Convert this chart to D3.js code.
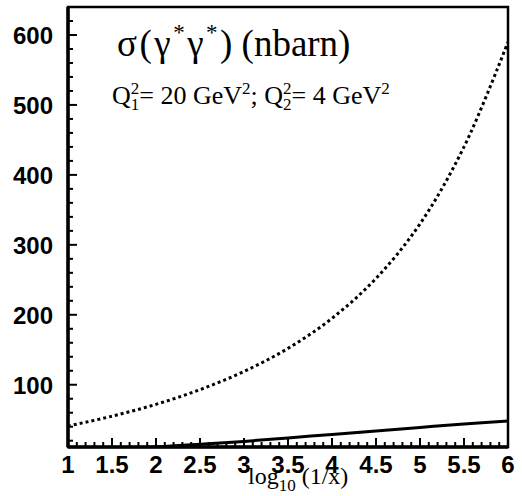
<!DOCTYPE html>
<html>
<head>
<meta charset="utf-8">
<script src="https://cdn.jsdelivr.net/npm/d3@7"></script>
<style>
  body { margin: 0; background: #fff; }
  svg { display: block; }
</style>
</head>
<body>
<svg id="chart"></svg>
<script>
// values
const logX = [1, 1.5, 2, 2.5, 3, 3.5, 4, 4.5, 5, 5.5, 6]
const sigmaDotted = [41, 55, 72, 93, 119, 152, 195, 252, 330, 440, 590]
const sigmaSolid = [5, 8, 11, 15, 19, 24, 29, 34, 39, 44, 48]
const xTickLabels = ['1', '1.5', '2', '2.5', '3', '3.5', '4', '4.5', '5', '5.5', '6']
const yTickLabels = ['100', '200', '300', '400', '500', '600']

const width = 522, height = 496
const margin = { top: 7, right: 14, bottom: 49, left: 68 }

const svg = d3.select('#chart')
  .attr('width', width)
  .attr('height', height)

const x = d3.scaleLinear().domain([1, 6]).range([margin.left, width - margin.right])
const y = d3.scaleLinear().domain([11, 640]).range([height - margin.bottom, margin.top])

svg.append('clipPath').attr('id', 'plot')
  .append('rect')
  .attr('x', margin.left).attr('y', margin.top)
  .attr('width', x(6) - x(1)).attr('height', y(11) - y(640))

const line = d3.line()
  .x(d => x(d[0]))
  .y(d => y(d[1]))
  .curve(d3.curveCatmullRom)

const curves = svg.append('g').attr('clip-path', 'url(#plot)')

curves.append('path')
  .datum(logX.map((v, i) => [v, sigmaDotted[i]]))
  .attr('d', line)
  .attr('fill', 'none')
  .attr('stroke', '#000')
  .attr('stroke-width', 3)
  .attr('stroke-dasharray', '3,3')

curves.append('path')
  .datum(logX.map((v, i) => [v, sigmaSolid[i]]))
  .attr('d', line)
  .attr('fill', 'none')
  .attr('stroke', '#000')
  .attr('stroke-width', 3)

// ticks (inside the frame)
const yMinor = d3.range(20, 641, 20)
svg.append('g').selectAll('line')
  .data(yMinor)
  .enter().append('line')
  .attr('x1', x(1))
  .attr('x2', d => x(1) + (d % 100 === 0 ? 9 : 5))
  .attr('y1', d => y(d)).attr('y2', d => y(d))
  .attr('stroke', '#000').attr('stroke-width', 2)

const xMinor = d3.range(10, 60).map(d => d / 10)
svg.append('g').selectAll('line')
  .data(xMinor)
  .enter().append('line')
  .attr('x1', d => x(d)).attr('x2', d => x(d))
  .attr('y1', y(11))
  .attr('y2', d => y(11) - (Math.round(d * 10) % 5 === 0 ? 9 : 5))
  .attr('stroke', '#000').attr('stroke-width', 2)

// frame
svg.append('rect')
  .attr('x', x(1)).attr('y', y(640))
  .attr('width', x(6) - x(1)).attr('height', y(11) - y(640))
  .attr('fill', 'none').attr('stroke', '#000').attr('stroke-width', 2.5)
svg.append('line')
  .attr('x1', x(1)).attr('x2', x(1)).attr('y1', y(640)).attr('y2', y(11))
  .attr('stroke', '#000').attr('stroke-width', 3.5)
svg.append('line')
  .attr('x1', x(1)).attr('x2', x(6)).attr('y1', y(11)).attr('y2', y(11))
  .attr('stroke', '#000').attr('stroke-width', 3.5)

// tick labels
svg.append('g').selectAll('text')
  .data(yTickLabels)
  .enter().append('text')
  .attr('x', 53)
  .attr('y', d => y(+d) + 9)
  .attr('text-anchor', 'end')
  .attr('font-family', '"Liberation Sans", Arial, sans-serif')
  .attr('font-weight', 'bold')
  .attr('font-size', 24)
  .text(d => d)

svg.append('g').selectAll('text')
  .data(xTickLabels)
  .enter().append('text')
  .attr('x', d => x(+d))
  .attr('y', 473)
  .attr('text-anchor', 'middle')
  .attr('font-family', '"Liberation Sans", Arial, sans-serif')
  .attr('font-weight', 'bold')
  .attr('font-size', 24)
  .text(d => d)

const serif = '"Liberation Serif", "Times New Roman", serif'

// axis title
const xt = svg.append('text')
  .attr('x', 248).attr('y', 484)
  .attr('font-family', serif).attr('font-size', 24)
xt.append('tspan').text('log')
xt.append('tspan').attr('dy', 7).attr('font-size', 17).text('10')
xt.append('tspan').attr('dy', -7).text(' (1/x)')

// title
const t1 = svg.append('text')
  .attr('x', 117).attr('y', 56)
  .attr('font-family', serif).attr('font-size', 37)
t1.append('tspan').attr('letter-spacing', 2.5).text('σ(γ')
t1.append('tspan').attr('dy', -16).attr('font-size', 23).attr('letter-spacing', 2.5).text('*')
t1.append('tspan').attr('dy', 16).attr('letter-spacing', 2.5).text('γ')
t1.append('tspan').attr('dy', -16).attr('font-size', 23).attr('letter-spacing', 2.5).text('*')
t1.append('tspan').attr('dy', 16).text(') (nbarn)')

// kinematics line
const t2 = svg.append('text')
  .attr('x', 112).attr('y', 104)
  .attr('font-family', serif).attr('font-size', 26)
function qSym(txt, sub) {
  txt.append('tspan').text('Q')
  txt.append('tspan').attr('dy', -10).attr('font-size', 17).text('2')
  txt.append('tspan').attr('dx', -8.5).attr('dy', 16).attr('font-size', 17).text(sub)
  txt.append('tspan').attr('dy', -6).text('= ')
}
qSym(t2, '1')
t2.append('tspan').text('20 GeV')
t2.append('tspan').attr('dy', -10).attr('font-size', 17).text('2')
t2.append('tspan').attr('dy', 10).text('; ')
qSym(t2, '2')
t2.append('tspan').text('4 GeV')
t2.append('tspan').attr('dy', -10).attr('font-size', 17).text('2')
</script>
</body>
</html>
